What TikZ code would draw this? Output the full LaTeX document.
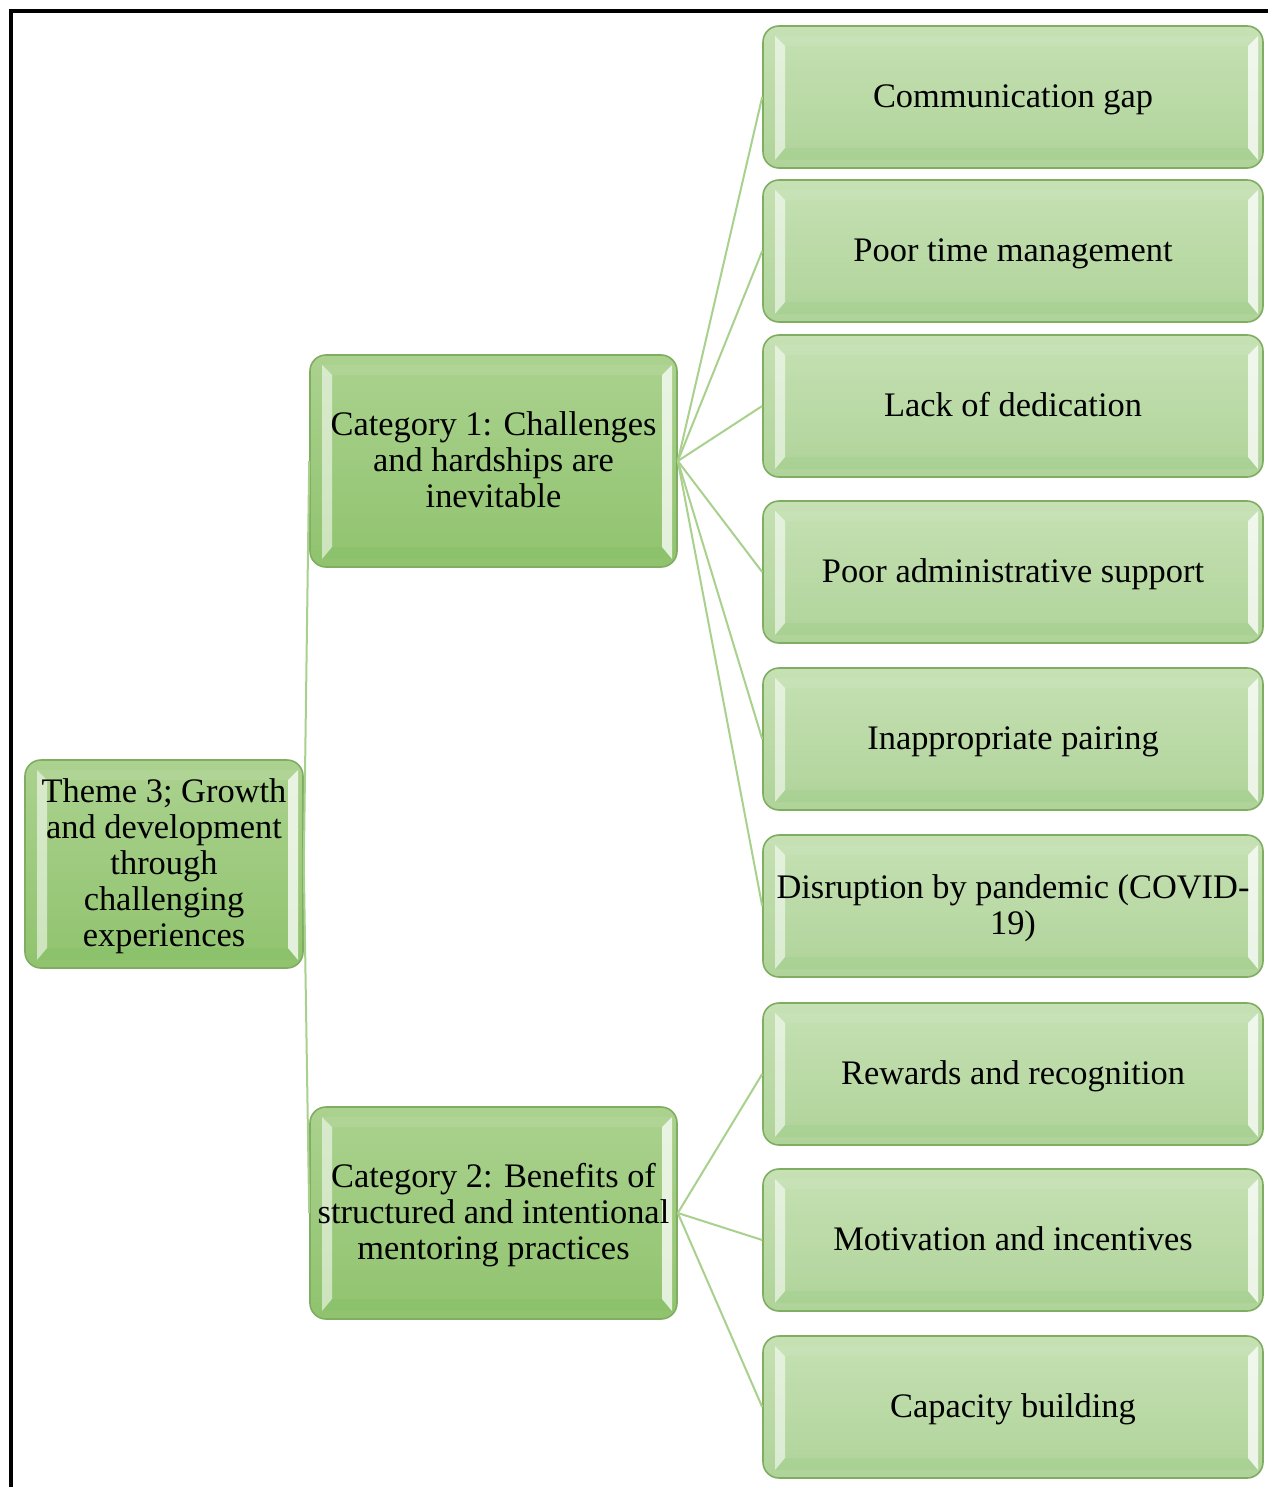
\documentclass[tikz,border=0pt]{standalone}
\usepackage{fontspec}
\setmainfont{Liberation Serif}
\usetikzlibrary{calc}
\definecolor{leafTop}{HTML}{C6E1B4}
\definecolor{leafBot}{HTML}{AFD399}
\definecolor{catTop}{HTML}{ABD28F}
\definecolor{catBot}{HTML}{90C36E}
\definecolor{edgeG}{HTML}{7FAE62}
\definecolor{lineG}{HTML}{A9D18E}
\newcommand\firstln{\rule{0pt}{14pt}}
\tikzset{
 bevel/.style={path picture={
   \path (path picture bounding box.south west) coordinate (bsw)
         (path picture bounding box.north east) coordinate (bne);
   \fill[white,opacity=.55,sharp corners] ($(bsw|-bne)+(6pt,-5pt)$) -- ++(5pt,-5pt) -- ($(bsw)+(11pt,10pt)$) -- ($(bsw)+(6pt,4pt)$) -- cycle;
   \fill[white,opacity=.75,sharp corners] ($(bne)+(-2.5pt,-5pt)$) -- ++(-5pt,-5pt) -- ($(bsw-|bne)+(-7.5pt,10pt)$) -- ($(bsw-|bne)+(-2.5pt,4pt)$) -- cycle;
   \fill[white,opacity=.08,sharp corners] ($(bsw|-bne)+(6pt,-5pt)$) -- ++(5pt,-5pt) -- ($(bne)+(-7.5pt,-10pt)$) -- ($(bne)+(-2.5pt,-5pt)$) -- cycle;
   \fill[black!40!green,opacity=.04,sharp corners] ($(bsw)+(6pt,4pt)$) -- ++(5pt,6pt) -- ($(bsw-|bne)+(-7.5pt,10pt)$) -- ($(bsw-|bne)+(-2.5pt,4pt)$) -- cycle;
 }},
 box/.style={draw=edgeG, line width=0.8pt, rounded corners=8pt, align=center,
   font=\fontsize{17.2}{18}\selectfont, inner sep=2pt, bevel,
   execute at end node={\rule[-3.8pt]{0pt}{0pt}}},
 leaf/.style={box, top color=leafTop, bottom color=leafBot, minimum width=250pt, minimum height=71pt},
 cat/.style={box, top color=catTop, bottom color=catBot, minimum width=183.5pt, minimum height=106pt},
 themebox/.style={cat, minimum width=139pt, minimum height=104pt},
 link/.style={lineG, line width=1pt}
}
\begin{document}
\begin{tikzpicture}[x=0.5pt,y=-0.5pt]
\useasboundingbox (0,0) rectangle (1268,1487);
\fill[white] (0,0) rectangle (1268,1487);
\coordinate (fr1) at (1268,11);
\coordinate (fr2) at (11,11);
\coordinate (fr3) at (11,1487);
\draw[black, line width=1.7pt] (fr1) -- (fr2) -- (fr3);

\node[themebox] (theme) at (164,864) {\firstln Theme 3; Growth\\and development\\through\\challenging\\experiences};
\node[cat] (c1) at (493.5,461) {\firstln Category 1: Challenges\\and hardships are\\inevitable};
\node[cat] (c2) at (493.5,1213) {\firstln Category 2: Benefits of\\structured and intentional\\mentoring practices};

\node[leaf] (l1) at (1013,97) {\firstln Communication gap};
\node[leaf] (l2) at (1013,251) {\firstln Poor time management};
\node[leaf] (l3) at (1013,406) {\firstln Lack of dedication};
\node[leaf] (l4) at (1013,572) {\firstln Poor administrative support};
\node[leaf] (l5) at (1013,739) {\firstln Inappropriate pairing};
\node[leaf] (l6) at (1013,906) {\firstln Disruption by pandemic (COVID-\\19)};
\node[leaf] (l7) at (1013,1074) {\firstln Rewards and recognition};
\node[leaf] (l8) at (1013,1240) {\firstln Motivation and incentives};
\node[leaf] (l9) at (1013,1407) {\firstln Capacity building};

\draw[link] (theme.east) -- (c1.west);
\draw[link] (theme.east) -- (c2.west);
\foreach \i in {1,...,6} {\draw[link] (c1.east) -- (l\i.west);}
\foreach \i in {7,8,9} {\draw[link] (c2.east) -- (l\i.west);}
\end{tikzpicture}
\end{document}
